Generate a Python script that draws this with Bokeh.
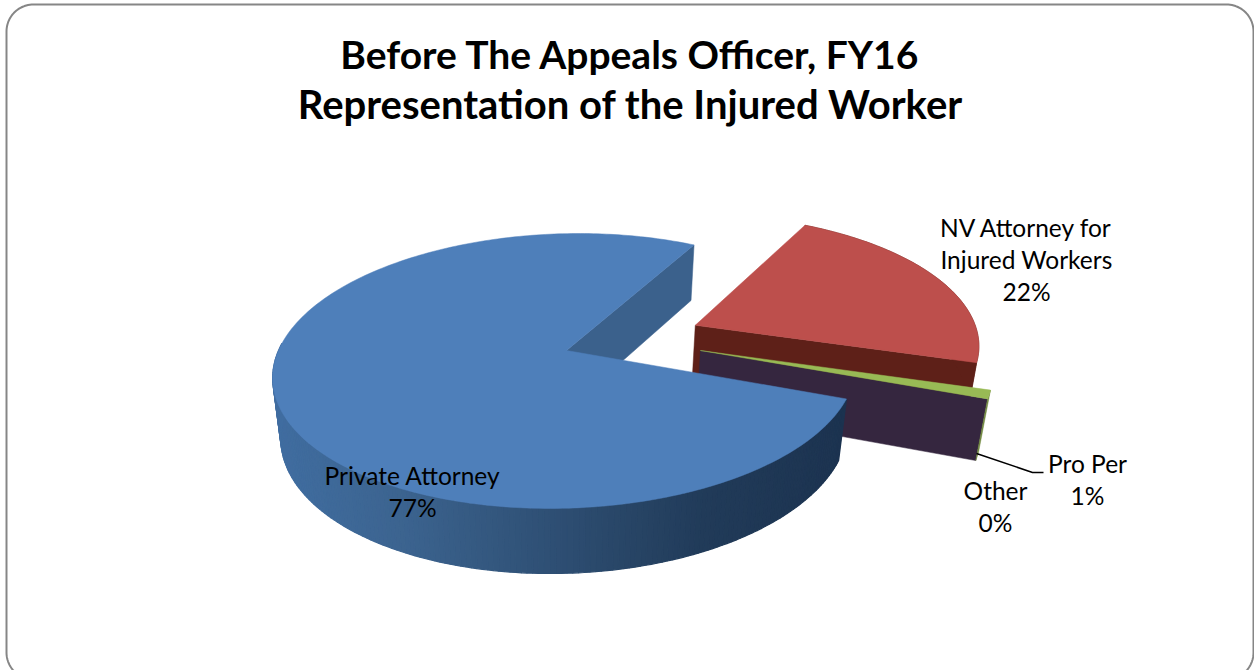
import numpy as np
from bokeh.plotting import figure
from bokeh.embed import file_html
from bokeh.resources import INLINE
from bokeh.core.properties import value

W, H = 1254, 670

title_lines = ["Before The Appeals Officer, FY16", "Representation of the Injured Worker"]
categories = ["Private Attorney", "NV Attorney for Injured Workers", "Pro Per", "Other"]
percents = [77, 22, 1, 0]

top_colors = ["#4e7fba", "#bd4f4c", "#98ba55", "#35263f"]
cut_colors = ["#3b618c", "#5e2018", "#35263f", "#35263f"]
rim_colors = ["#2f5075", "#5e2018", "#70883e", "#35263f"]
explode_amount = [0.0, 0.49, 0.465, 0.465]
explode_dir_deg = [0.0, None, 0.0, 0.0]

start_deg = 20.0
cx, cy = 566.0, 350.0
rx, ry = 288.0, 134.4
persist_k, persist_m, drop = 0.149, 0.0274, 61.5
skew = -0.05

wall_x_stops = [280, 400, 545, 700, 840]
wall_stops = [(0x40, 0x6d, 0xa0), (0x3c, 0x64, 0x90), (0x2f, 0x50, 0x75), (0x21, 0x3b, 0x59), (0x1c, 0x33, 0x50)]


def project(X, Y, z=0.0):
    X, Y = np.asarray(X, float), np.asarray(Y, float)
    w = 1 - persist_k * Y + persist_m * z
    return cx + rx * (X + skew * Y) / w, cy + (ry * Y + drop * z) / w


def hexcol(rgb):
    return "#%02x%02x%02x" % tuple(int(round(c)) for c in rgb)


p = figure(width=W, height=H, x_range=(0, W), y_range=(H, 0), toolbar_location=None,
           output_backend="svg", min_border=0, outline_line_color=None,
           background_fill_color="white", border_fill_color=None)
p.axis.visible = False
p.grid.visible = False

angles = []
a = start_deg
for v in percents:
    b = a + v * 3.6
    angles.append((a, b))
    a = b

apexes = []
for i in range(len(percents)):
    a0, a1 = angles[i]
    d = explode_dir_deg[i]
    d = (a0 + a1) / 2 if d is None else d
    apexes.append((explode_amount[i] * np.cos(np.radians(d)), explode_amount[i] * np.sin(np.radians(d))))


def arc(i, n=None):
    a0, a1 = angles[i]
    n = n or max(2, int(abs(a1 - a0)) + 2)
    th = np.radians(np.linspace(a0, a1, n))
    return apexes[i][0] + np.cos(th), apexes[i][1] + np.sin(th)


def cut_wall(i, deg, color):
    ax, ay = apexes[i]
    ex, ey = ax + np.cos(np.radians(deg)), ay + np.sin(np.radians(deg))
    X = np.array([ax, ex, ex, ax])
    Y = np.array([ay, ey, ey, ay])
    z = np.array([0, 0, 1, 1.0])
    sx, sy = project(X, Y, z)
    p.patch(sx.tolist(), sy.tolist(), fill_color=color, line_color=color, line_width=0.5)


def rim_wall(i, color):
    X, Y = arc(i)
    sx0, sy0 = project(X, Y, 0)
    sx1, sy1 = project(X, Y, 1)
    xs = np.r_[sx0, sx1[::-1]]
    ys = np.r_[sy0, sy1[::-1]]
    p.patch(xs.tolist(), ys.tolist(), fill_color=color, line_color=color, line_width=0.5)


def top_face(i, color):
    X, Y = arc(i)
    sx, sy = project(np.r_[apexes[i][0], X], np.r_[apexes[i][1], Y], 0)
    p.patch(sx.tolist(), sy.tolist(), fill_color=color, line_color=color, line_width=0.5)


cut_wall(0, angles[0][1], cut_colors[0])
cut_wall(1, angles[1][1], cut_colors[1])
rim_wall(1, rim_colors[1])
top_face(1, top_colors[1])
cut_wall(3, angles[3][0], cut_colors[3])
rim_wall(2, rim_colors[2])
top_face(2, top_colors[2])
thetas = np.linspace(angles[0][0], angles[0][1], int(angles[0][1] - angles[0][0]) + 1)
xs, ys, cols = [], [], []
for t0, t1 in zip(thetas[:-1], thetas[1:]):
    th = np.radians([t0, t1])
    X, Y = np.cos(th), np.sin(th)
    s0x, s0y = project(X, Y, 0)
    s1x, s1y = project(X, Y, 1)
    if max(Y) < -0.05:
        continue
    xs.append([s0x[0], s0x[1], s1x[1], s1x[0]])
    ys.append([s0y[0], s0y[1], s1y[1], s1y[0]])
    mx = s1x.mean()
    cols.append(hexcol([np.interp(mx, wall_x_stops, [c[k] for c in wall_stops]) for k in range(3)]))
p.patches(xs, ys, fill_color=cols, line_color=cols, line_width=1.2)
top_face(0, top_colors[0])

p.line([976, 1032, 1043], [453, 472, 472], line_color="black", line_width=1.5)

r = 27
fl, fr, ft, fb = 6, 1253, 4, 679
fx, fy = [], []
for ccx, ccy, a0 in [(fl + r, ft + r, 180), (fr - r, ft + r, 270), (fr - r, fb - r, 0), (fl + r, fb - r, 90)]:
    th = np.radians(np.linspace(a0, a0 + 90, 24))
    fx += (ccx + r * np.cos(th)).tolist()
    fy += (ccy + r * np.sin(th)).tolist()
fx.append(fx[0]); fy.append(fy[0])
p.line(fx, fy, line_color="#868686", line_width=2)

label_font = value("Lato")
body_size = "24.5px"
label_rows = [
    (1026, 227, "NV Attorney for"), (1026, 259, "Injured Workers"), (1026, 291, f"{percents[1]}%"),
    (412, 475, categories[0]), (412, 507, f"{percents[0]}%"),
    (1087, 463, categories[2]), (1087, 495, f"{percents[2]}%"),
    (995, 490, categories[3]), (995, 522, f"{percents[3]}%"),
]
p.text([r_[0] for r_ in label_rows], [r_[1] for r_ in label_rows], text=[r_[2] for r_ in label_rows],
       text_font=label_font, text_font_size=body_size, text_color="black",
       text_align="center", text_baseline="middle")
p.text([630], [53], text=title_lines[:1], text_font=label_font, text_font_size="39px",
       text_font_style="bold", text_color="black", text_align="center", text_baseline="middle")
p.text([630], [103], text=title_lines[1:], text_font=label_font, text_font_size="40px",
       text_font_style="bold", text_color="black", text_align="center", text_baseline="middle")

open("out.html", "w").write(file_html(p, INLINE))
